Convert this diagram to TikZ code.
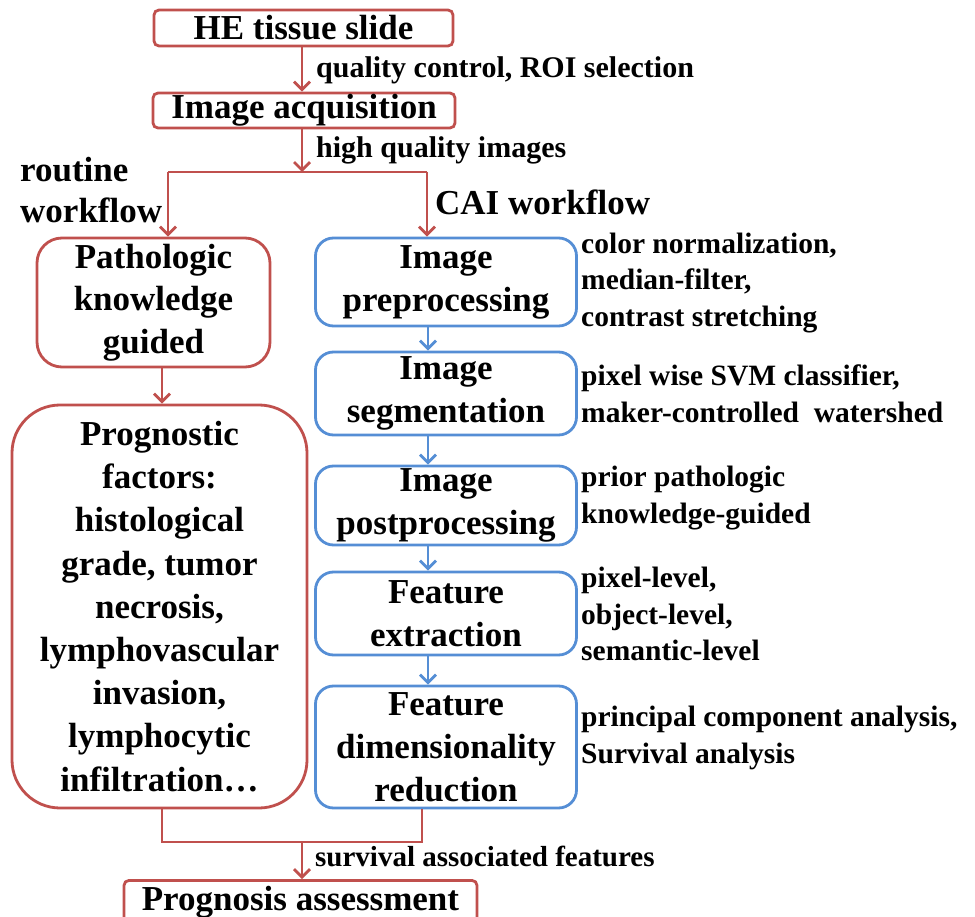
\documentclass[tikz,border=0pt]{standalone}
\usepackage{fontspec}
\setmainfont{Liberation Serif}
\usetikzlibrary{arrows.meta}
\definecolor{rd}{RGB}{192,80,77}
\definecolor{bl}{RGB}{85,142,213}
\begin{document}
\begin{tikzpicture}[x=1pt,y=-1pt,
  rbox/.style={draw=rd,line width=2.8pt,rectangle,rounded corners=5pt,inner sep=0pt,align=center,font=\fontsize{35}{43}\selectfont\bfseries},
  bbox/.style={draw=bl,line width=2.8pt,rectangle,rounded corners=18pt,inner sep=0pt,minimum width=261pt,align=center,font=\fontsize{35}{43}\selectfont\bfseries},
  rarr/.style={draw=rd,line width=2.8pt,-{Straight Barb[length=8pt,width=16pt,line width=2.8pt]}},
  barr/.style={draw=bl,line width=2.8pt,-{Straight Barb[length=8pt,width=16pt,line width=2.8pt]}},
  rline/.style={draw=rd,line width=2.8pt},
  lab/.style={anchor=base west,inner sep=0pt,font=\fontsize{30}{36}\selectfont\bfseries},
  side/.style={anchor=west,inner sep=0pt,align=left,font=\fontsize{29.5}{36.5}\selectfont\bfseries}
]
\useasboundingbox (0,0) rectangle (975,917);
\clip (0,0) rectangle (975,917);
% top boxes
\node[rbox,minimum width=299pt,minimum height=36pt] (he) at (303.5,28) {HE tissue slide};
\node[rbox,minimum width=302pt,minimum height=35pt] (ia) at (304,110.5) {Image acquisition};
\draw[rarr] (302,0 |- he.south) -- (302,0 |- ia.north);
\node[lab] (l1) at (316,78) {quality control, ROI selection};
\coordinate (j1) at (302,172);
\draw[rarr] (302,0 |- ia.south) -- (j1);
\node[lab] (l2) at (316,158) {high quality images};
% left column
\node[rbox,rounded corners=25pt,minimum width=233pt,minimum height=129pt,font=\fontsize{35}{42.5}\selectfont\bfseries] (pk) at (153.5,302.5) {Pathologic\\knowledge\\guided};
\node[rbox,rounded corners=48pt,minimum width=295pt,minimum height=403pt,font=\fontsize{35}{43.2}\selectfont\bfseries] (pf) at (159.5,606.5) {Prognostic\\factors:\\histological\\grade, tumor\\necrosis,\\lymphovascular\\invasion,\\lymphocytic\\infiltration\ldots};
% blue column
\node[bbox,minimum height=88pt] (pre) at (446,282) {Image\\preprocessing};
\node[bbox,minimum height=83pt] (seg) at (446,393.5) {Image\\segmentation};
\node[bbox,minimum height=79pt] (post) at (446,505.5) {Image\\postprocessing};
\node[bbox,minimum height=83pt] (fe) at (446,613.5) {Feature\\extraction};
\node[bbox,minimum height=122pt] (fdr) at (446,747) {Feature\\dimensionality\\reduction};
% split
\coordinate (jl) at (168,172);
\coordinate (jr) at (427,172);
\draw[rline] (jl) -- (jr);
\draw[rarr] (jl) -- (jl |- pk.north);
\draw[rarr] (jr) -- (jr |- pre.north);
\node[anchor=west,inner sep=0pt,align=left,font=\fontsize{35}{41}\selectfont\bfseries] (rw) at (20,190) {routine\\workflow};
\node[anchor=base west,inner sep=0pt,font=\fontsize{35}{40}\selectfont\bfseries] (cai) at (435,215) {CAI workflow};
\draw[rarr] (162,0 |- pk.south) -- (162,0 |- pf.north);
% blue arrows
\draw[barr] (428,0 |- pre.south) -- (428,0 |- seg.north);
\draw[barr] (428,0 |- seg.south) -- (428,0 |- post.north);
\draw[barr] (428,0 |- post.south) -- (428,0 |- fe.north);
\draw[barr] (428,0 |- fe.south) -- (428,0 |- fdr.north);
% side labels
\node[side] (s1) at (581,283) {color normalization,\\median-filter,\\contrast stretching};
\node[side] (s2) at (581,394) {pixel wise SVM classifier,\\maker-controlled\ \ watershed};
\node[side] (s3) at (581,498) {prior pathologic\\knowledge-guided};
\node[side] (s4) at (581,614) {pixel-level,\\object-level,\\semantic-level};
\node[side] (s5) at (581,738) {principal component analysis,\\Survival analysis};
% bottom
\node[rbox,minimum width=353pt,minimum height=43pt,anchor=north] (pa) at (300.5,879) {Prognosis assessment};
\coordinate (bl) at (162,842);
\coordinate (br) at (422,842);
\coordinate (bm) at (302,842);
\draw[rline] (162,0 |- pf.south) -- (bl) -- (br) -- (422,0 |- fdr.south);
\draw[rarr] (bm) -- (302,0 |- pa.north);
\node[lab,font=\fontsize{29}{35}\selectfont\bfseries] (l3) at (315,866) {survival associated features};
\end{tikzpicture}
\end{document}
